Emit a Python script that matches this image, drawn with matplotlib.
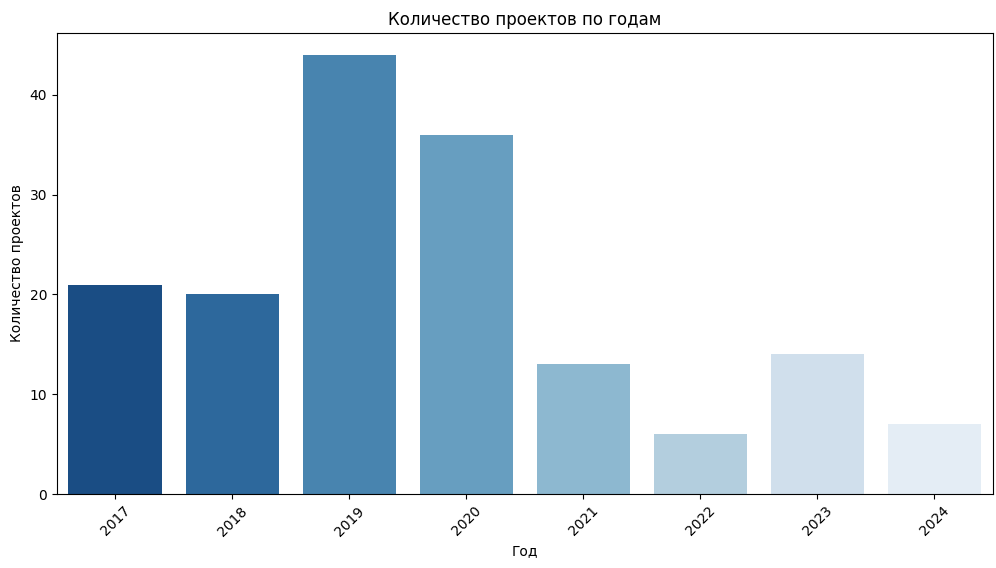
import matplotlib
matplotlib.use("Agg")
import matplotlib.pyplot as plt
import seaborn as sns

years = ["2017", "2018", "2019", "2020", "2021", "2022", "2023", "2024"]
counts = [21, 20, 44, 36, 13, 6, 14, 7]

fig = plt.figure(figsize=(9.96, 5.68), dpi=100)
ax = fig.add_axes([0.057, 0.130, 0.940, 0.812])
sns.barplot(x=years, y=counts, hue=years, palette="Blues_r", legend=False, ax=ax)

ax.set_title("Количество проектов по годам")
ax.set_xlabel("Год")
ax.set_ylabel("Количество проектов")
plt.xticks(rotation=45)

fig.savefig("out.png", dpi=100)
